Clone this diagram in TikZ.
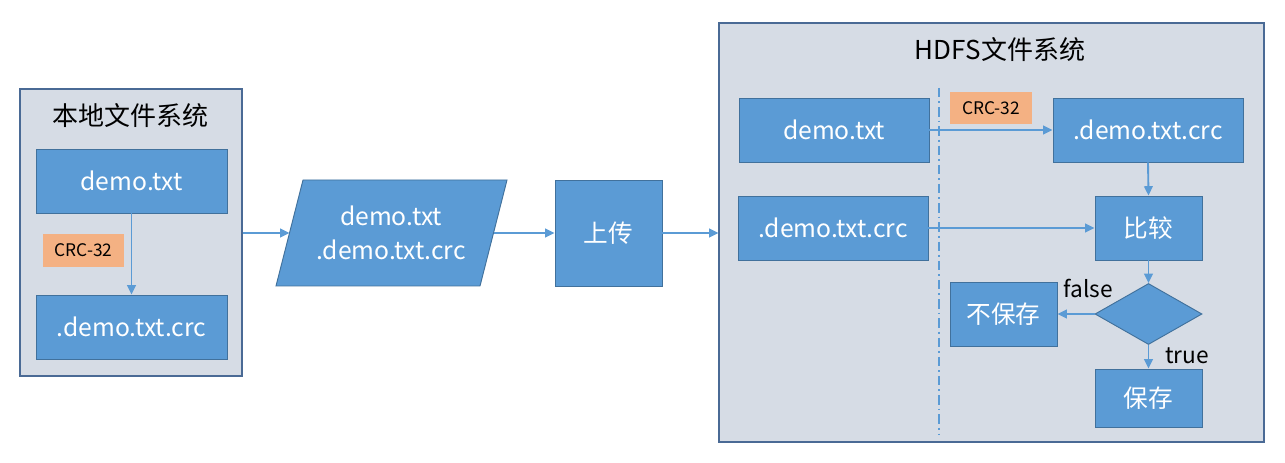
\documentclass[tikz,border=0pt]{standalone}
\usepackage{fontspec}
\setmainfont{Noto Sans CJK SC}
\usetikzlibrary{shapes.geometric,arrows.meta}
\definecolor{boxfill}{HTML}{5B9BD5}
\definecolor{boxline}{HTML}{41719C}
\definecolor{contfill}{HTML}{D6DCE5}
\definecolor{contline}{HTML}{4A6A95}
\definecolor{lblfill}{HTML}{F4B183}
\definecolor{arrowc}{HTML}{5B9BD5}
\tikzset{
  container/.style={draw=contline, fill=contfill, line width=0.8pt, inner sep=0pt},
  bluebox/.style={draw=boxline, fill=boxfill, line width=0.7pt, text=white, inner sep=0pt, font=\fontsize{18.5}{21}\selectfont},
  cjkbox/.style={bluebox, font=\fontsize{18.5}{21}\selectfont},
  boxtext/.style={text=white, inner sep=0pt, align=center, font=\fontsize{18.5}{25}\selectfont},
  lbl/.style={fill=lblfill, inner sep=0pt, text=black, font=\fontsize{13}{15}\selectfont},
  title/.style={text=black, font=\fontsize{19.5}{23}\selectfont},
  cond/.style={text=black, font=\fontsize{17}{20}\selectfont},
  conn/.style={draw=arrowc, line width=1.4pt, -{Triangle[length=7pt,width=6.5pt]}},
}
\begin{document}
\begin{tikzpicture}[x=0.75pt,y=-0.75pt]
\useasboundingbox[fill=white] (0,0) rectangle (1285,463);
% left container
\node[container, minimum width=166.5pt, minimum height=215.25pt] (lc) at (131,232.5) {};
\node[title] (lct) at (130,116) {本地文件系统};
\node[bluebox, minimum width=143.25pt, minimum height=48pt] (ldemo) at (131.5,181) {demo.txt};
\node[bluebox, minimum width=143.25pt, minimum height=48pt] (lcrc) at (131.5,327) {.demo.txt.crc};
\node[lbl, minimum width=60.75pt, minimum height=24.75pt] (llbl) at (83.5,250.5) {CRC-32};
\draw[conn] (ldemo) -- (lcrc);
% parallelogram
\draw[draw=boxline, fill=boxfill, line width=0.7pt] (303,180) -- (507,180) -- (480,286) -- (276,286) -- cycle;
\coordinate (paraL) at (289.5,233);
\coordinate (paraR) at (493.5,233);
\node[boxtext] (para) at (391,233) {demo.txt\\.demo.txt.crc};
% upload
\node[cjkbox, minimum width=80.25pt, minimum height=79.5pt] (up) at (608.5,233) {上传};
% HDFS container
\node[container, minimum width=408.75pt, minimum height=314.25pt] (hc) at (991.5,232.5) {};
\node[title] (hct) at (1000,50) {HDFS文件系统};
\draw[draw=arrowc, line width=1.4pt, dash pattern=on 7pt off 3pt on 1.4pt off 3pt] (939,88) coordinate (dtop) -- (939,435) coordinate (dbot);
\node[bluebox, minimum width=142.5pt, minimum height=48pt] (hdemo) at (834,130) {demo.txt};
\node[bluebox, minimum width=142.5pt, minimum height=48pt] (hcrc2) at (1148,130) {.demo.txt.crc};
\node[lbl, minimum width=61.5pt, minimum height=24pt] (hlbl) at (991,108) {CRC-32};
\node[bluebox, minimum width=142.5pt, minimum height=48pt] (hcrc) at (833,228) {.demo.txt.crc};
\node[cjkbox, minimum width=80.25pt, minimum height=48pt] (cmp) at (1148.5,228) {比较};
\node[diamond, draw=boxline, fill=boxfill, line width=0.7pt, inner sep=0pt, minimum width=80.25pt, minimum height=45.75pt] (dec) at (1148.5,314) {};
\node[cjkbox, minimum width=80.25pt, minimum height=48pt] (nosave) at (1003.5,314) {不保存};
\node[cjkbox, minimum width=80.25pt, minimum height=43.5pt] (save) at (1148.5,398) {保存};
\node[cond] (ff) at (1088,288) {false};
\node[cond] (tt) at (1187,356) {true};
% connectors
\draw[conn] (lc.east |- paraL) -- (paraL);
\draw[conn] (paraR) -- (paraR -| up.west);
\draw[conn] (up.east) -- (up.east -| hc.west);
\draw[conn] (hdemo.east) -- (hcrc2.west);
\draw[conn] (hcrc.east) -- (cmp.west);
\draw[conn] (hcrc2.south) -- (cmp.north);
\draw[conn] (cmp.south) -- (dec.north);
\draw[conn] (dec.west) -- (nosave.east);
\draw[conn] (dec.south) -- (save.north);
\end{tikzpicture}
\end{document}
